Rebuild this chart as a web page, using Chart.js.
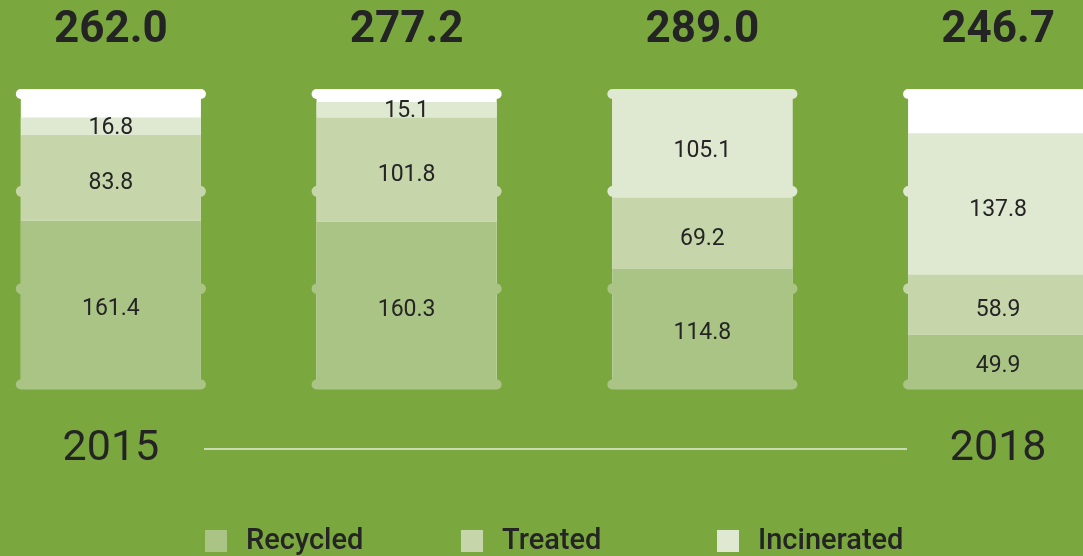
<!DOCTYPE html>
<html>
<head>
<meta charset="utf-8">
<script src="https://cdn.jsdelivr.net/npm/chart.js@4"></script>
<style>
  html, body { margin: 0; padding: 0; background: #7aa83e; overflow: hidden; width: 1083px; height: 556px; }
  #wrap { position: absolute; left: -37px; top: 0; }
</style>
</head>
<body>
<div id="wrap"><canvas id="barrels" width="1183" height="556"></canvas></div>
<script>
const SHIFT = 37; // canvas starts 37px left of the page

const years = ['2015', '', '', '2018'];
const recycled = [161.4, 160.3, 114.8, 49.9];
const treated = [83.8, 101.8, 69.2, 58.9];
const incinerated = [16.8, 15.1, 105.1, 137.8];
const totals = ['262.0', '277.2', '289.0', '246.7'];
const seriesNames = ['Recycled', 'Treated', 'Incinerated'];
const seriesColors = ['#aac485', '#c6d6aa', '#dfe8d0'];

const INK = '#242424';
const FONT = 'Roboto, "Noto Sans", sans-serif';

function segmentColorAt(chart, i, y) {
  let color = '#ffffff';
  chart.data.datasets.forEach((ds, d) => {
    let el = chart.getDatasetMeta(d).data[i];
    if (y >= el.y - 0.5 && y <= el.base + 0.5) color = ds.backgroundColor;
  });
  return color;
}

// white barrel body behind the stacks
const barrelBody = {
  id: 'barrelBody',
  beforeDatasetsDraw(chart) {
    let ctx = chart.ctx;
    let area = chart.chartArea;
    ctx.save();
    ctx.fillStyle = '#ffffff';
    chart.getDatasetMeta(0).data.forEach(el => {
      ctx.fillRect(el.x - el.width / 2, area.top, el.width, area.bottom - area.top);
    });
    ctx.restore();
  }
};

// rims, value labels, totals, years and legend
const barrelDecor = {
  id: 'barrelDecor',
  afterDatasetsDraw(chart) {
    let ctx = chart.ctx;
    let area = chart.chartArea;
    let h = area.bottom - area.top;
    ctx.save();

    chart.getDatasetMeta(0).data.forEach((el, i) => {
      let left = el.x - el.width / 2;
      let right = el.x + el.width / 2;
      let rimYs = [area.top, area.top + h / 3, area.top + 2 * h / 3, area.bottom - 1.5];
      rimYs.forEach((y, r) => {
        ctx.fillStyle = segmentColorAt(chart, i, y);
        ctx.beginPath();
        if (r === 0 || r === 3) {
          ctx.roundRect(left - 5, y - 5, el.width + 10, 10, 5);
        } else {
          ctx.roundRect(left - 5, y - 5.5, 7, 11, [5.5, 0, 0, 5.5]);
          ctx.roundRect(right - 2, y - 5.5, 7, 11, [0, 5.5, 5.5, 0]);
        }
        ctx.fill();
      });
    });

    // segment values, sitting a little below the middle of each segment
    ctx.fillStyle = INK;
    ctx.textAlign = 'center';
    ctx.textBaseline = 'middle';
    ctx.font = '23px ' + FONT;
    chart.data.datasets.forEach((ds, d) => {
      chart.getDatasetMeta(d).data.forEach((el, i) => {
        let top = Math.max(el.y, area.top);
        let h = el.base - top;
        let dy = h > 40 ? 6 : 2;
        ctx.fillText(ds.data[i].toFixed(1), el.x, (top + el.base) / 2 + dy);
      });
    });

    // totals above each barrel
    ctx.font = 'bold 44px ' + FONT;
    chart.getDatasetMeta(0).data.forEach((el, i) => {
      ctx.fillText(totals[i], el.x, 31);
    });

    // year labels and the connecting line
    let bars = chart.getDatasetMeta(0).data;
    ctx.font = '43px ' + FONT;
    chart.data.labels.forEach((lab, i) => {
      if (lab) ctx.fillText(lab, bars[i].x, 449);
    });
    ctx.strokeStyle = '#c9dbb0';
    ctx.lineWidth = 2;
    ctx.beginPath();
    ctx.moveTo(204 + SHIFT, 449);
    ctx.lineTo(907 + SHIFT, 449);
    ctx.stroke();

    // legend
    ctx.textAlign = 'left';
    ctx.textBaseline = 'alphabetic';
    ctx.font = '500 29px ' + FONT;
    chart.data.datasets.forEach((ds, d) => {
      let x = 205 + d * 256 + SHIFT;
      ctx.fillStyle = ds.backgroundColor;
      ctx.fillRect(x, 530, 22, 22);
      ctx.fillStyle = INK;
      ctx.fillText(ds.label, x + 41, 549);
    });

    ctx.restore();
  }
};

new Chart(document.getElementById('barrels').getContext('2d'), {
  type: 'bar',
  data: {
    labels: years,
    datasets: [
      { label: seriesNames[0], data: recycled, backgroundColor: seriesColors[0] },
      { label: seriesNames[1], data: treated, backgroundColor: seriesColors[1] },
      { label: seriesNames[2], data: incinerated, backgroundColor: seriesColors[2] }
    ]
  },
  options: {
    responsive: false,
    animation: false,
    layout: { padding: { top: 94, bottom: 170, left: 0, right: 0 } },
    datasets: {
      bar: { categoryPercentage: 1, barPercentage: 0.609, borderWidth: 0 }
    },
    scales: {
      x: { stacked: true, display: false },
      y: { stacked: true, display: false, min: 0, max: 285 }
    },
    plugins: {
      legend: { display: false },
      tooltip: { enabled: false }
    }
  },
  plugins: [barrelBody, barrelDecor]
});
</script>
</body>
</html>
